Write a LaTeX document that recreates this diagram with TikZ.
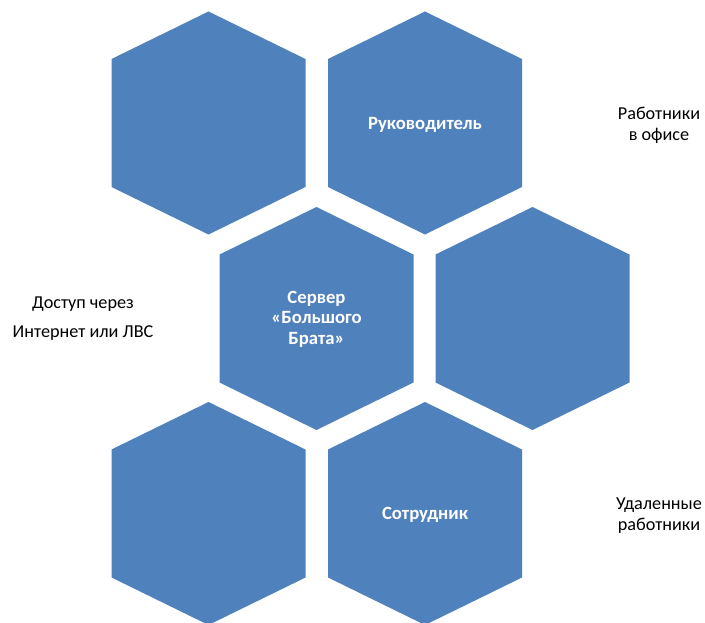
\documentclass[tikz,border=0pt]{standalone}
\usepackage{fontspec}
\setmainfont{Carlito}
\definecolor{hexblue}{HTML}{4F81BD}
\tikzset{
  hexcell/.style={fill=hexblue},
  hexlabel/.style={text=white, font=\fontsize{18.7}{20.5}\selectfont\bfseries, align=center, inner sep=0pt},
  sidelabel/.style={text=black, font=\fontsize{18.2}{21}\selectfont, align=center, inner sep=0pt}
}
\newcommand{\hexat}[1]{\fill[hexcell, shift={(#1)}] (0,-111.5) -- (97,-64) -- (97,64) -- (0,111.5) -- (-97,64) -- (-97,-64) -- cycle;}
\begin{document}
\begin{tikzpicture}[x=1pt,y=-1pt]
\useasboundingbox (0,0) rectangle (705,623);
\coordinate (h1) at (208.5,123);
\coordinate (h2) at (425,123);
\coordinate (h3) at (316.5,318.5);
\coordinate (h4) at (532.5,318.5);
\coordinate (h5) at (208.5,513.5);
\coordinate (h6) at (425,513.5);
\foreach \h in {h1,h2,h3,h4,h5,h6} {\hexat{\h}}
\node[hexlabel] (boss) at (425,125) {Руководитель};
\node[hexlabel] (server) at (316.5,319) {Сервер\\«Большого\\Брата»};
\node[hexlabel] (emp) at (425,515) {Сотрудник};
\node[sidelabel] (office) at (659,125) {Работники\\в офисе};
\node[sidelabel, font=\fontsize{18.2}{29}\selectfont] (access) at (83,319) {Доступ через\\Интернет или ЛВС};
\node[sidelabel] (remote) at (659,516) {Удаленные\\работники};
\end{tikzpicture}
\end{document}
